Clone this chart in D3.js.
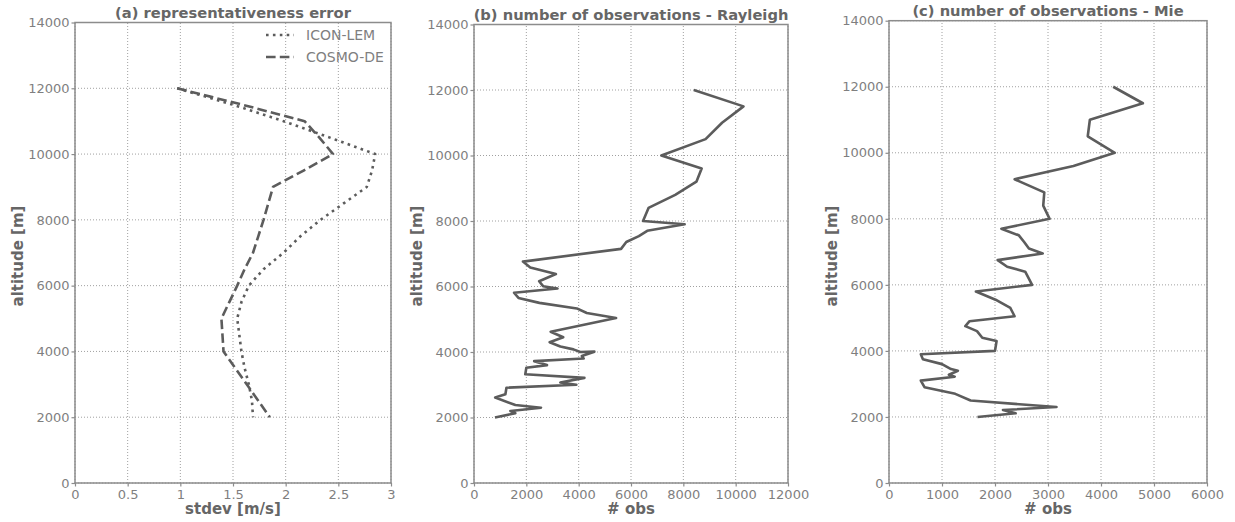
<!DOCTYPE html>
<html>
<head>
<meta charset="utf-8">
<script src="https://cdn.jsdelivr.net/npm/d3@7"></script>
<style>
  body { margin: 0; background: #fff; }
  svg { font-family: "DejaVu Sans", sans-serif; }
</style>
</head>
<body>
<svg id="chart" width="1235" height="522"></svg>
<script>
// panel (a) representativeness error, stdev [m/s] per altitude
var altA    = [12000, 11500, 11000, 10500, 10000, 9500, 9000, 8500, 8000, 7500, 7000, 6500, 6000, 5500, 5000, 4500, 4000, 3500, 3000, 2500, 2000];
var iconLem = [0.97, 1.50, 1.98, 2.42, 2.85, 2.82, 2.77, 2.55, 2.33, 2.14, 1.98, 1.79, 1.65, 1.58, 1.54, 1.56, 1.58, 1.61, 1.65, 1.68, 1.69];
var cosmoDe = [0.97, 1.59, 2.18, 2.32, 2.45, 2.17, 1.88, 1.835, 1.79, 1.74, 1.69, 1.61, 1.54, 1.465, 1.39, 1.40, 1.41, 1.52, 1.63, 1.74, 1.85];

// panel (b) Rayleigh observations
var altRay = [12000, 11500, 11000, 10500, 10000, 9600, 9200, 8800, 8400, 8000, 7900, 7700, 7540, 7360, 7150,
              6760, 6580, 6380, 6160, 6010, 5940, 5810, 5650, 5500, 5330, 5190, 5040, 4620, 4450, 4300,
              4170, 4080, 4000, 4010, 3880, 3800, 3720, 3600, 3520, 3320, 3210, 3070, 3000, 2910, 2710,
              2610, 2380, 2300, 2200, 2130, 2000];
var obsRay = [8400, 10300, 9480, 8850, 7160, 8700, 8500, 7690, 6670, 6460, 8050, 6620, 6300, 5820, 5620,
              1870, 2150, 3130, 2490, 2640, 3190, 1530, 1700, 2500, 3930, 4310, 5430, 2930, 3410, 2890,
              3300, 3800, 4060, 4600, 4120, 4190, 2300, 2790, 2000, 1960, 4220, 3300, 3910, 1240, 1200,
              810, 1580, 2560, 1390, 1580, 800];

// panel (c) Mie observations
var altMie = [12000, 11500, 11000, 10500, 10000, 9600, 9200, 8800, 8400, 8000, 7700, 7500, 7300, 7100, 6950,
              6750, 6550, 6400, 6000, 5800, 5550, 5300, 5050, 4900, 4750, 4600, 4400, 4300, 4000, 3900,
              3750, 3600, 3450, 3400, 3280, 3220, 3100, 2900, 2700, 2500, 2300, 2210, 2110, 2000];
var obsMie = [4230, 4790, 3790, 3750, 4260, 3480, 2370, 2930, 2910, 3030, 2120, 2450, 2550, 2640, 2900,
              2050, 2230, 2570, 2700, 1640, 2010, 2290, 2370, 1520, 1440, 1660, 1760, 2030, 2000, 600,
              640, 1000, 1170, 1300, 1130, 1240, 600, 670, 1250, 1540, 3160, 2150, 2390, 1670];

var altTicks  = [0, 2000, 4000, 6000, 8000, 10000, 12000, 14000];
var stdTicks  = [0, 0.5, 1, 1.5, 2, 2.5, 3];
var rayTicks  = [0, 2000, 4000, 6000, 8000, 10000, 12000];
var mieTicks  = [0, 1000, 2000, 3000, 4000, 5000, 6000];

var lineColor = "#5c5c5c",
    frameColor = "#8c8c8c",
    tickColor = "#7f7f7f",
    labelColor = "#666666";

var svg = d3.select("#chart");

function drawPanel(p) {
    var x = d3.scaleLinear().domain(p.xDomain).range([p.left, p.right]);
    var y = d3.scaleLinear().domain([0, 14000]).range([483, p.top]);
    var g = svg.append("g");

    // grid
    g.append("g").selectAll("line").data(p.xTicks).enter().append("line")
        .attr("x1", function (d) { return x(d); }).attr("x2", function (d) { return x(d); })
        .attr("y1", y(0)).attr("y2", y(14000))
        .attr("stroke", "#a0a0a0").attr("stroke-width", 1).attr("stroke-dasharray", "1,2");
    g.append("g").selectAll("line").data(altTicks).enter().append("line")
        .attr("y1", function (d) { return y(d); }).attr("y2", function (d) { return y(d); })
        .attr("x1", x.range()[0]).attr("x2", x.range()[1])
        .attr("stroke", "#a0a0a0").attr("stroke-width", 1).attr("stroke-dasharray", "1,2");

    // series
    p.series.forEach(function (s) {
        var pts = d3.zip(s.x, s.y);
        g.append("path")
            .datum(pts)
            .attr("fill", "none")
            .attr("stroke", lineColor)
            .attr("stroke-width", 2.6)
            .attr("stroke-linejoin", "round")
            .attr("stroke-dasharray", s.dash || null)
            .attr("d", d3.line()
                .x(function (d) { return x(d[0]); })
                .y(function (d) { return y(d[1]); }));
    });

    // axes
    var xAxis = g.append("g").attr("transform", "translate(0,483)")
        .call(d3.axisBottom(x).tickValues(p.xTicks).tickFormat(function (d) { return String(d); })
            .tickSize(3.5).tickPadding(3));
    var yAxis = g.append("g").attr("transform", "translate(" + p.left + ",0)")
        .call(d3.axisLeft(y).tickValues(altTicks).tickFormat(function (d) { return String(d); })
            .tickSize(3.5).tickPadding(2));
    [xAxis, yAxis].forEach(function (a) {
        a.select(".domain").remove();
        a.selectAll("line").attr("stroke", frameColor).attr("stroke-width", 1.2);
        a.selectAll("text").attr("fill", tickColor).style("font-size", "13px")
            .style("font-family", "DejaVu Sans, sans-serif");
    });

    // frame
    g.append("rect")
        .attr("x", p.left).attr("y", p.top)
        .attr("width", p.right - p.left).attr("height", 483 - p.top)
        .attr("fill", "none").attr("stroke", frameColor).attr("stroke-width", 1.5);

    // title and labels
    g.append("text")
        .attr("x", (p.left + p.right) / 2).attr("y", p.top - 5)
        .attr("text-anchor", "middle")
        .attr("fill", labelColor).style("font-size", "14.7px").style("font-weight", "bold")
        .text(p.title);
    g.append("text")
        .attr("x", (p.left + p.right) / 2).attr("y", 514)
        .attr("text-anchor", "middle")
        .attr("fill", labelColor).style("font-size", "15px").style("font-weight", "bold")
        .text(p.xLabel);
    g.append("text")
        .attr("transform", "translate(" + (p.left - 52) + ",256) rotate(-90)")
        .attr("text-anchor", "middle")
        .attr("fill", labelColor).style("font-size", "15px").style("font-weight", "bold")
        .text("altitude [m]");

    return {x: x, y: y, g: g};
}

var pa = drawPanel({
    left: 75, right: 391, top: 22.5, xDomain: [0, 3], xTicks: stdTicks,
    title: "(a) representativeness error", xLabel: "stdev [m/s]",
    series: [
        {x: iconLem, y: altA, dash: "2.6,4.3", name: "ICON-LEM"},
        {x: cosmoDe, y: altA, dash: "9.6,4.2", name: "COSMO-DE"}
    ]
});

drawPanel({
    left: 474, right: 788, top: 24.5, xDomain: [0, 12000], xTicks: rayTicks,
    title: "(b) number of observations - Rayleigh", xLabel: "# obs",
    series: [{x: obsRay, y: altRay}]
});

drawPanel({
    left: 889, right: 1207, top: 20.7, xDomain: [0, 6000], xTicks: mieTicks,
    title: "(c) number of observations - Mie", xLabel: "# obs",
    series: [{x: obsMie, y: altMie}]
});

// legend for panel (a)
var legendItems = [
    {name: "ICON-LEM", dash: "2.6,4.3", y: 35},
    {name: "COSMO-DE", dash: "9.6,4.2", y: 57}
];
var legend = pa.g.append("g");
legend.selectAll("line").data(legendItems).enter().append("line")
    .attr("x1", 266).attr("x2", 294)
    .attr("y1", function (d) { return d.y; }).attr("y2", function (d) { return d.y; })
    .attr("stroke", lineColor).attr("stroke-width", 2.6)
    .attr("stroke-dasharray", function (d) { return d.dash; });
legend.selectAll("text").data(legendItems).enter().append("text")
    .attr("x", 306).attr("y", function (d) { return d.y; })
    .attr("dy", "0.36em")
    .attr("fill", tickColor).style("font-size", "14px")
    .text(function (d) { return d.name; });
</script>
</body>
</html>
